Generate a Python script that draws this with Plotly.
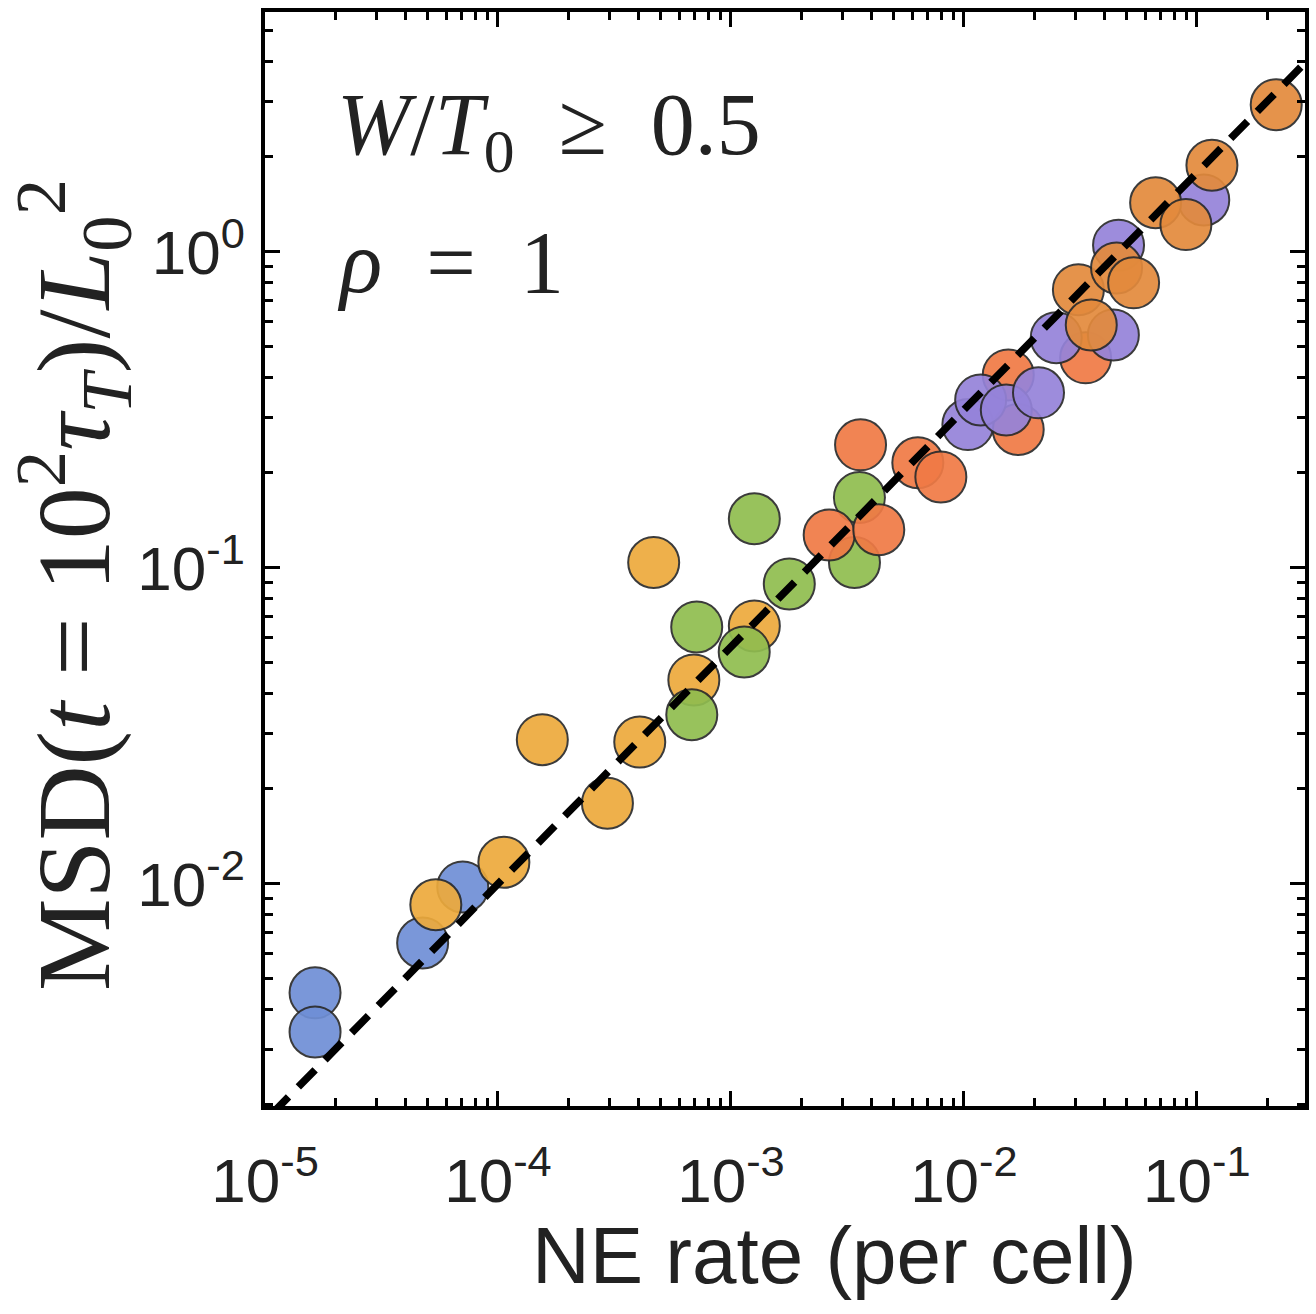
import numpy as np
import plotly.graph_objects as go

# ---- data ----
blue_x = [1.64e-5, 1.64e-5, 4.75e-5, 7.06e-5]
blue_y = [4.52e-3, 3.40e-3, 6.50e-3, 9.78e-3]

yellow_x = [5.41e-5, 1.06e-4, 1.55e-4, 2.95e-4, 4.06e-4, 4.66e-4, 6.93e-4, 1.26e-3]
yellow_y = [8.59e-3, 1.17e-2, 2.86e-2, 1.80e-2, 2.81e-2, 0.104, 4.42e-2, 6.55e-2]

green_x = [6.79e-4, 7.13e-4, 1.14e-3, 1.26e-3, 1.78e-3, 3.56e-3, 3.39e-3]
green_y = [3.43e-2, 6.50e-2, 5.42e-2, 0.143, 8.89e-2, 0.167, 0.104]

red_x = [3.60e-3, 2.64e-3, 4.31e-3, 6.34e-3, 7.96e-3, 1.55e-2, 1.71e-2, 3.33e-2]
red_y = [0.245, 0.127, 0.132, 0.215, 0.194, 0.408, 0.274, 0.462]

purple_x = [1.04e-2, 1.18e-2, 1.52e-2, 2.09e-2, 2.49e-2, 4.38e-2, 4.61e-2, 0.107]
purple_y = [0.284, 0.340, 0.316, 0.358, 0.535, 0.546, 1.05, 1.46]

dorange_x = [0.219, 0.116, 6.65e-2, 8.97e-2, 3.10e-2, 4.52e-2, 5.35e-2, 3.52e-2]
dorange_y = [2.92, 1.88, 1.43, 1.22, 0.759, 0.889, 0.798, 0.587]

# power-law guide: MSD = fit_amp * rate ** fit_exp
fit_amp = 10.0
fit_exp = 0.75

x_tickvals = [1e-5, 1e-4, 1e-3, 1e-2, 1e-1]
x_ticktext = ["10<sup>-5</sup>", "10<sup>-4</sup>", "10<sup>-3</sup>", "10<sup>-2</sup>", "10<sup>-1</sup>"]
y_tickvals = [1e-2, 1e-1, 1e0]
y_ticktext = ["10<sup>-2</sup>", "10<sup>-1</sup>", "10<sup>0</sup>"]

x_title = "NE rate (per cell)"
y_title = "MSD(<i>t</i> = 10<sup>2</sup><i>τ<sub>T</sub></i>)/<i>L</i><sub>0</sub><sup>2</sup>"
label_line1 = "<i>W</i>/<i>T</i><sub>0</sub>&nbsp;&nbsp;≥&nbsp;&nbsp;0.5"
label_line2 = "<i>ρ</i>&nbsp;&nbsp;=&nbsp;&nbsp;1"

x_range_log = [-5.0, -0.536]
y_range_log = [-2.703, 0.759]

series = [
    (blue_x, blue_y, "#6f8fd6"),
    (yellow_x, yellow_y, "#edaa3c"),
    (green_x, green_y, "#90bd4f"),
    (red_x, red_y, "#f07a45"),
    (purple_x, purple_y, "#9583da"),
    (dorange_x, dorange_y, "#e38a3c"),
]

fig = go.Figure()
for xs, ys, col in series:
    fig.add_trace(go.Scatter(
        x=xs, y=ys, mode="markers",
        marker=dict(size=51, color=col, opacity=0.92,
                    line=dict(color="#2b2b2b", width=2)),
        showlegend=False, hoverinfo="skip"))

fx = np.array([10 ** (x_range_log[0] - 0.2), 10 ** (x_range_log[1] + 0.2)])
fy = fit_amp * fx ** fit_exp
fig.add_trace(go.Scatter(x=fx, y=fy, mode="lines",
                         line=dict(color="black", width=7.5, dash="24px,14px"),
                         showlegend=False, hoverinfo="skip"))

minor_x = [m * 10.0 ** d for d in range(-5, 0) for m in range(2, 10)]
minor_y = [m * 10.0 ** d for d in range(-3, 1) for m in range(2, 10)]

axis_common = dict(
    type="log", showgrid=False, zeroline=False,
    showline=True, linecolor="black", linewidth=3.5, mirror="allticks",
    ticks="inside", ticklen=15, tickwidth=3, tickcolor="black",
    tickfont=dict(family="Liberation Sans, Arial, sans-serif", size=62, color="#222"),
)

fig.update_xaxes(
    **axis_common, range=x_range_log,
    tickmode="array", tickvals=x_tickvals, ticktext=x_ticktext,
    minor=dict(tickmode="array", tickvals=minor_x, ticks="inside", ticklen=8, tickwidth=2.5, tickcolor="black"),
    ticklabelstandoff=18,
)
fig.update_yaxes(
    **axis_common, range=y_range_log,
    tickmode="array", tickvals=y_tickvals, ticktext=y_ticktext,
    minor=dict(tickmode="array", tickvals=minor_y, ticks="inside", ticklen=8, tickwidth=2.5, tickcolor="black"),
    ticklabelstandoff=4,
)

serif = "Liberation Serif, Times New Roman, serif"
fig.add_annotation(xref="paper", yref="paper", x=0.548, y=-0.137, xanchor="center", yanchor="middle",
                   text=x_title, showarrow=False,
                   font=dict(family="Liberation Sans, Arial, sans-serif", size=80, color="#222"))
fig.add_annotation(xref="paper", yref="paper", x=-0.184, y=0.476, xanchor="center", yanchor="middle",
                   text=y_title, textangle=-90, showarrow=False,
                   font=dict(family=serif, size=104, color="#222"))
fig.add_annotation(xref="paper", yref="paper", x=0.067, y=0.892, xanchor="left", yanchor="middle",
                   text=label_line1, showarrow=False,
                   font=dict(family=serif, size=88, color="#222"))
fig.add_annotation(xref="paper", yref="paper", x=0.067, y=0.771, xanchor="left", yanchor="middle",
                   text=label_line2, showarrow=False,
                   font=dict(family=serif, size=88, color="#222"))

fig.update_layout(
    width=1316, height=1314,
    margin=dict(l=265, r=11, t=12, b=208, autoexpand=False),
    plot_bgcolor="white", paper_bgcolor="white",
)

fig.write_html("out.html")
